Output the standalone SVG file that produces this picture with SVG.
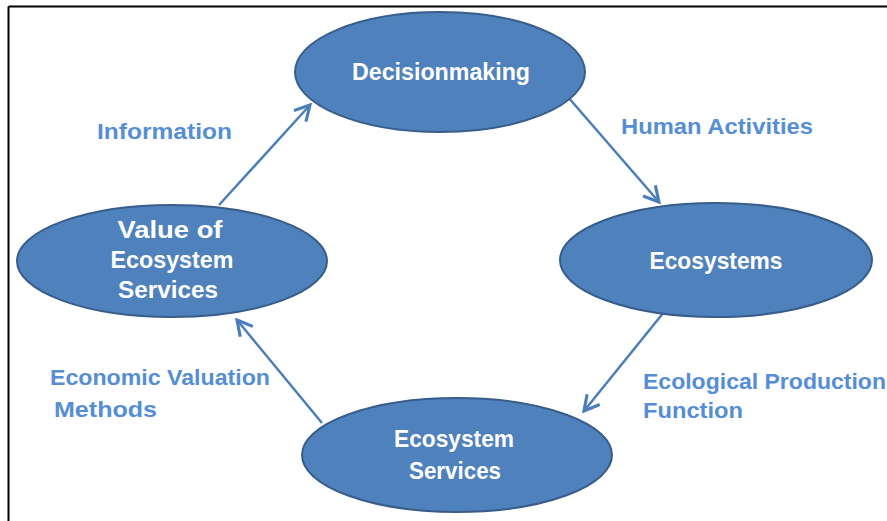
<svg xmlns="http://www.w3.org/2000/svg" width="887" height="521" viewBox="0 0 887 521">
<style>
.node{fill:#4F81BD;stroke:#385D8A;stroke-width:2}
.nt{font-family:"Liberation Sans",Arial,sans-serif;font-weight:bold;font-size:24.5px;fill:#FFFFFF;text-anchor:middle}
.lb{font-family:"Liberation Sans",Arial,sans-serif;font-weight:bold;font-size:22px;fill:#558ED5}
.con{fill:none;stroke:#4A7EBB;stroke-width:2.5;marker-end:url(#arr)}
</style>
<defs>
<marker id="arr" markerUnits="userSpaceOnUse" markerWidth="20" markerHeight="20" viewBox="-14 -8 16 16" refX="0" refY="0" orient="auto">
<path d="M-12,-6.5 L0,0 L-12,6.5" fill="none" stroke="#4A7EBB" stroke-width="2.5" stroke-linejoin="miter"/>
</marker>
</defs>
<rect width="887" height="521" fill="#FFFFFF"/>
<g id="frame">
<line x1="8.5" y1="6.5" x2="887" y2="6.5" stroke="#000" stroke-width="2"/>
<line x1="8.5" y1="6.5" x2="8.5" y2="521" stroke="#000" stroke-width="2"/>
</g>
<g id="connectors">
<path class="con" d="M219,205 L310,105"/>
<path class="con" d="M568,97 L659,202"/>
<path class="con" d="M664,312 L584,411"/>
<path class="con" d="M322,423 L237,320"/>
</g>
<g id="labels">
<text class="lb" x="97" y="139" textLength="135" lengthAdjust="spacingAndGlyphs">Information</text>
<text class="lb" x="621" y="134" textLength="192" lengthAdjust="spacingAndGlyphs">Human Activities</text>
<text class="lb" x="643" y="389" textLength="243" lengthAdjust="spacingAndGlyphs">Ecological Production</text>
<text class="lb" x="643" y="418" textLength="100" lengthAdjust="spacingAndGlyphs">Function</text>
<text class="lb" x="50" y="385" textLength="220" lengthAdjust="spacingAndGlyphs">Economic Valuation</text>
<text class="lb" x="54" y="417" textLength="103" lengthAdjust="spacingAndGlyphs">Methods</text>
</g>
<g id="n-decision">
<ellipse class="node" cx="440" cy="72" rx="145" ry="60"/>
<text class="nt" x="441" y="80" textLength="178" lengthAdjust="spacingAndGlyphs">Decisionmaking</text>
</g>
<g id="n-ecosystems">
<ellipse class="node" cx="716" cy="260" rx="156" ry="57"/>
<text class="nt" x="716" y="269" textLength="133" lengthAdjust="spacingAndGlyphs">Ecosystems</text>
</g>
<g id="n-services">
<ellipse class="node" cx="457" cy="455" rx="155" ry="57"/>
<text class="nt" x="454" y="447" textLength="120" lengthAdjust="spacingAndGlyphs">Ecosystem</text>
<text class="nt" x="455" y="479" textLength="92" lengthAdjust="spacingAndGlyphs">Services</text>
</g>
<g id="n-value">
<ellipse class="node" cx="172" cy="261" rx="155" ry="56"/>
<text class="nt" x="170" y="238" textLength="105" lengthAdjust="spacingAndGlyphs">Value of</text>
<text class="nt" x="172" y="268" textLength="123" lengthAdjust="spacingAndGlyphs">Ecosystem</text>
<text class="nt" x="168" y="298" textLength="100" lengthAdjust="spacingAndGlyphs">Services</text>
</g>
</svg>
